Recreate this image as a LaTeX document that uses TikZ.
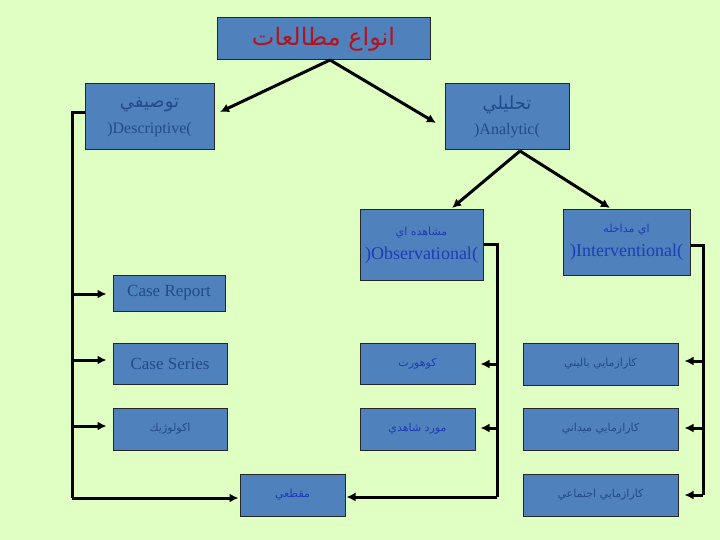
\documentclass[tikz,border=0pt]{standalone}
\usepackage{fontspec}
\setmainfont{Liberation Serif}
\newfontfamily\arabicfont[Script=Arabic]{DejaVu Sans}
\TeXXeTstate=1
\usetikzlibrary{arrows.meta}
\definecolor{bgc}{HTML}{E0FFC2}
\definecolor{boxc}{HTML}{4F81BD}
\definecolor{txtd}{HTML}{234A8C}
\definecolor{txtb}{HTML}{1E3CB4}
\definecolor{titlec}{HTML}{B4121E}
\newcommand{\fa}[1]{{\arabicfont\beginR #1\endR}}
\tikzset{
  box/.style={draw=black!85, line width=1pt, fill=boxc, inner sep=0pt, align=center},
  conn/.style={line width=3pt, black},
  arr/.style={conn, -{Latex[length=9pt,width=9pt]}},
}
\begin{document}
\begin{tikzpicture}[x=1pt,y=-1pt]
\fill[bgc] (0,0) rectangle (720,540);
\useasboundingbox (0,0) rectangle (720,540);

% nodes
\node[box, minimum width=213pt, minimum height=42pt, text=titlec, font=\fontsize{24}{26}\selectfont] (title) at (323.5,39) {\fa{انواع مطالعات}};
\node[box, minimum width=129pt, minimum height=66pt, text=txtd] (desc) at (149.5,117) {\fontsize{18}{22}\selectfont\fa{توصيفي}\\[9pt]\fontsize{16}{18}\selectfont )Descriptive(};
\node[box, minimum width=124pt, minimum height=66pt, text=txtd] (ana) at (507,117) {\fontsize{18}{22}\selectfont\fa{تحليلي}\\[9pt]\fontsize{16}{18}\selectfont )Analytic(};
\node[box, minimum width=123pt, minimum height=70pt, text=txtb] (obs) at (421.5,245) {\fontsize{11}{14}\selectfont\fa{مشاهده اي}\\[8pt]\fontsize{18}{20}\selectfont )Observational(};
\node[box, minimum width=127pt, minimum height=65pt, text=txtb] (int) at (626.5,242.5) {\fontsize{11}{14}\selectfont\fa{اي مداخله}\\[8pt]\fontsize{18}{20}\selectfont )Interventional(};
\node[box, minimum width=112pt, minimum height=36pt, text=txtd, font=\fontsize{17}{20}\selectfont] (cr) at (169,293) {Case Report};
\node[box, minimum width=114pt, minimum height=41pt, text=txtd, font=\fontsize{17}{20}\selectfont] (cs) at (170,363.5) {Case Series};
\node[box, minimum width=114pt, minimum height=42pt, text=txtd, font=\fontsize{11}{14}\selectfont] (eco) at (170,429) {\fa{اكولوژيك}};
\node[box, minimum width=115pt, minimum height=41pt, text=txtb, font=\fontsize{11}{14}\selectfont] (coh) at (417.5,363.5) {\fa{كوهورت}};
\node[box, minimum width=115pt, minimum height=42pt, text=txtb, font=\fontsize{11}{14}\selectfont] (cc) at (417.5,429) {\fa{مورد شاهدي}};
\node[box, minimum width=155pt, minimum height=42pt, text=txtd, font=\fontsize{11}{14}\selectfont] (rct) at (600.5,364) {\fa{كارازمايي باليني}};
\node[box, minimum width=155pt, minimum height=42pt, text=txtd, font=\fontsize{11}{14}\selectfont] (fld) at (600.5,429) {\fa{كارازمايي ميداني}};
\node[box, minimum width=105pt, minimum height=42pt, text=txtb, font=\fontsize{11}{14}\selectfont] (cross) at (292.5,495) {\fa{مقطعي}};
\node[box, minimum width=155pt, minimum height=42pt, text=txtd, font=\fontsize{11}{14}\selectfont] (comm) at (600.5,495) {\fa{كارازمايي اجتماعي}};

% coordinates
\coordinate (tsplit) at (330,60);
\coordinate (tdesc) at (220,112);
\coordinate (tana) at (436,123);
\coordinate (asplit) at (520,151);
\coordinate (aobs) at (452,208);
\coordinate (aint) at (610,208);
\coordinate (L1) at (72,113);
\coordinate (L2) at (72,498);
\coordinate (M1) at (497,244);
\coordinate (M2) at (497,497);
\coordinate (R1) at (703,245);
\coordinate (R2) at (703,495);

% title and analytic splits
\draw[arr] (tsplit) -- (tdesc);
\draw[arr] (tsplit) -- (tana);
\draw[arr] (asplit) -- (aobs);
\draw[arr] (asplit) -- (aint);

% left bus
\draw[conn] (desc.west |- L1) -- (L1) -- (L2);
\draw[arr, shorten >=1pt] (L2) -- (cross.west |- L2);
\draw[arr, shorten >=6pt] (L1 |- 0,294) -- (cr.west |- 0,294);
\draw[arr, shorten >=6pt] (L1 |- 0,360) -- (cs.west |- 0,360);
\draw[arr, shorten >=6pt] (L1 |- 0,426) -- (eco.west |- 0,426);

% middle bus
\draw[conn] (obs.east |- M1) -- (M1) -- (M2);
\draw[arr, shorten >=1pt] (M2) -- (cross.east |- M2);
\draw[arr, shorten >=5pt] (M1 |- 0,364) -- (coh.east |- 0,364);
\draw[arr, shorten >=5pt] (M1 |- 0,428) -- (cc.east |- 0,428);

% right bus
\draw[conn] (int.east |- R1) -- (R1) -- (R2);
\draw[arr, shorten >=6pt] (R1 |- 0,361) -- (rct.east |- 0,361);
\draw[arr, shorten >=6pt] (R1 |- 0,428) -- (fld.east |- 0,428);
\draw[arr, shorten >=6pt] (R2) -- (comm.east |- R2);
\end{tikzpicture}
\end{document}
